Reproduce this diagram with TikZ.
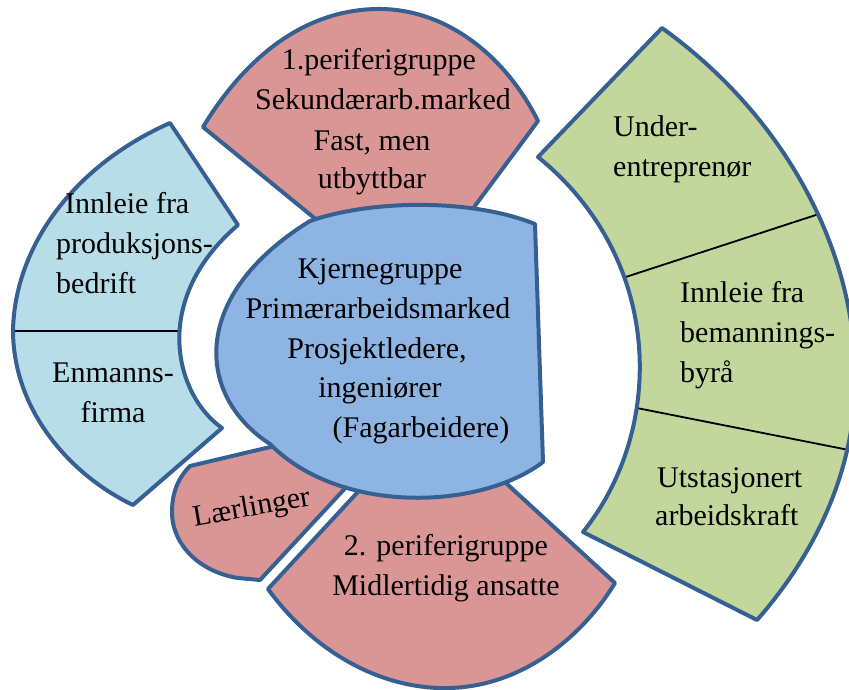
\documentclass[tikz,border=0pt]{standalone}
\usepackage{fontspec}
\setmainfont{Liberation Serif}
\definecolor{pinkfill}{HTML}{D99694}
\definecolor{corefill}{HTML}{8EB4E3}
\definecolor{lightfill}{HTML}{B7DEE8}
\definecolor{greenfill}{HTML}{C3D69B}
\definecolor{edge}{HTML}{376092}
\newcommand\PinkTopPath{(203,127) .. controls (250,50) and (310,10) .. (377,9) .. controls (445,8) and (505,55) .. (538,121) -- (460,226) -- (340,239) -- cycle}
\newcommand\PinkBotPath{(380,468) -- (268,589) .. controls (320,660) and (390,690) .. (450,688) .. controls (520,686) and (580,640) .. (615,583) -- (495,473) -- cycle}
\newcommand\LaerPath{(190,466) -- (300,440) -- (362,470) -- (260,580) -- (238,578) .. controls (200,572) and (172,545) .. (172,512) .. controls (172,490) and (180,476) .. cycle}
\newcommand\CorePath{(310,221) .. controls (370,200) and (470,198) .. (535,224) -- (543,462) .. controls (480,510) and (340,515) .. (270,444) .. controls (195,395) and (190,295) .. cycle}
\newcommand\LightPath{(170,123) .. controls (75,165) and (15,245) .. (13,330) .. controls (13,410) and (70,475) .. (133,505) -- (222,428) .. controls (175,395) and (150,300) .. (238,225) -- cycle}
\newcommand\GreenPath{(662,28) .. controls (790,120) and (860,260) .. (855,390) .. controls (852,480) and (810,560) .. (757,620) -- (583,532) .. controls (665,430) and (665,260) .. (538,157) -- cycle}
\begin{document}
\begin{tikzpicture}[x=1pt,y=-1pt,
  blob/.style={line width=4pt, draw=edge, line join=round},
  lbl/.style={font=\fontsize{30}{40}\selectfont, text=black, inner sep=0pt, anchor=base},
  lblw/.style={lbl, anchor=base west},
  divider/.style={line width=1.8pt, draw=black}]
\useasboundingbox (0,0) rectangle (849,690);
\clip (0,0) rectangle (849,690);
% pink shapes (behind the core)
\path[blob, fill=pinkfill] \PinkTopPath;
\path[blob, fill=pinkfill] \PinkBotPath;
\path[blob, fill=pinkfill] \LaerPath;
% core
\path[blob, fill=corefill] \CorePath;
% left light blue
\begin{scope}
  \clip \LightPath;
  \fill[lightfill] (0,0) rectangle (300,600);
  \coordinate (la) at (0,331);
  \coordinate (lb) at (260,331);
  \draw[divider] (la) -- (lb);
\end{scope}
\path[blob] \LightPath;
% right green
\begin{scope}
  \clip \GreenPath;
  \fill[greenfill] (500,0) rectangle (900,700);
  \coordinate (ga) at (600,285.4);
  \coordinate (gb) at (860,200.6);
  \coordinate (gc) at (600,400.7);
  \coordinate (gd) at (870,454.2);
  \draw[divider] (ga) -- (gb);
  \draw[divider] (gc) -- (gd);
\end{scope}
\path[blob] \GreenPath;
% texts
\node[lbl] (t1) at (379,70) {1.periferigruppe};
\node[lbl] (t2) at (383,110) {Sekundærarb.marked};
\node[lbl] (t3) at (372,150) {Fast, men};
\node[lbl] (t4) at (372,189) {utbyttbar};
\node[lbl] (c1) at (380,278) {Kjernegruppe};
\node[lbl] (c2) at (378,318) {Primærarbeidsmarked};
\node[lbl] (c3) at (377,358) {Prosjektledere,};
\node[lbl] (c4) at (380,397) {ingeniører};
\node[lbl] (c5) at (421,437) {(Fagarbeidere)};
\node[lblw] (l1) at (65,213) {Innleie fra};
\node[lblw] (l2) at (56,253) {produksjons-};
\node[lblw] (l3) at (56,293) {bedrift};
\node[lbl] (l4) at (113,382) {Enmanns-};
\node[lbl] (l5) at (113,422) {firma};
\node[lblw] (g1) at (613,137) {Under-};
\node[lblw] (g2) at (613,177) {entreprenør};
\node[lblw] (g3) at (680,302) {Innleie fra};
\node[lblw] (g4) at (680,342) {bemannings-};
\node[lblw] (g5) at (680,382) {byrå};
\node[lblw] (g6) at (657,487) {Utstasjonert};
\node[lblw] (g7) at (655,525) {arbeidskraft};
\node[lbl, rotate=10] (lr) at (253,516) {Lærlinger};
\node[lbl] (b1) at (446,555) {2. periferigruppe};
\node[lbl] (b2) at (446,595) {Midlertidig ansatte};
\end{tikzpicture}
\end{document}
